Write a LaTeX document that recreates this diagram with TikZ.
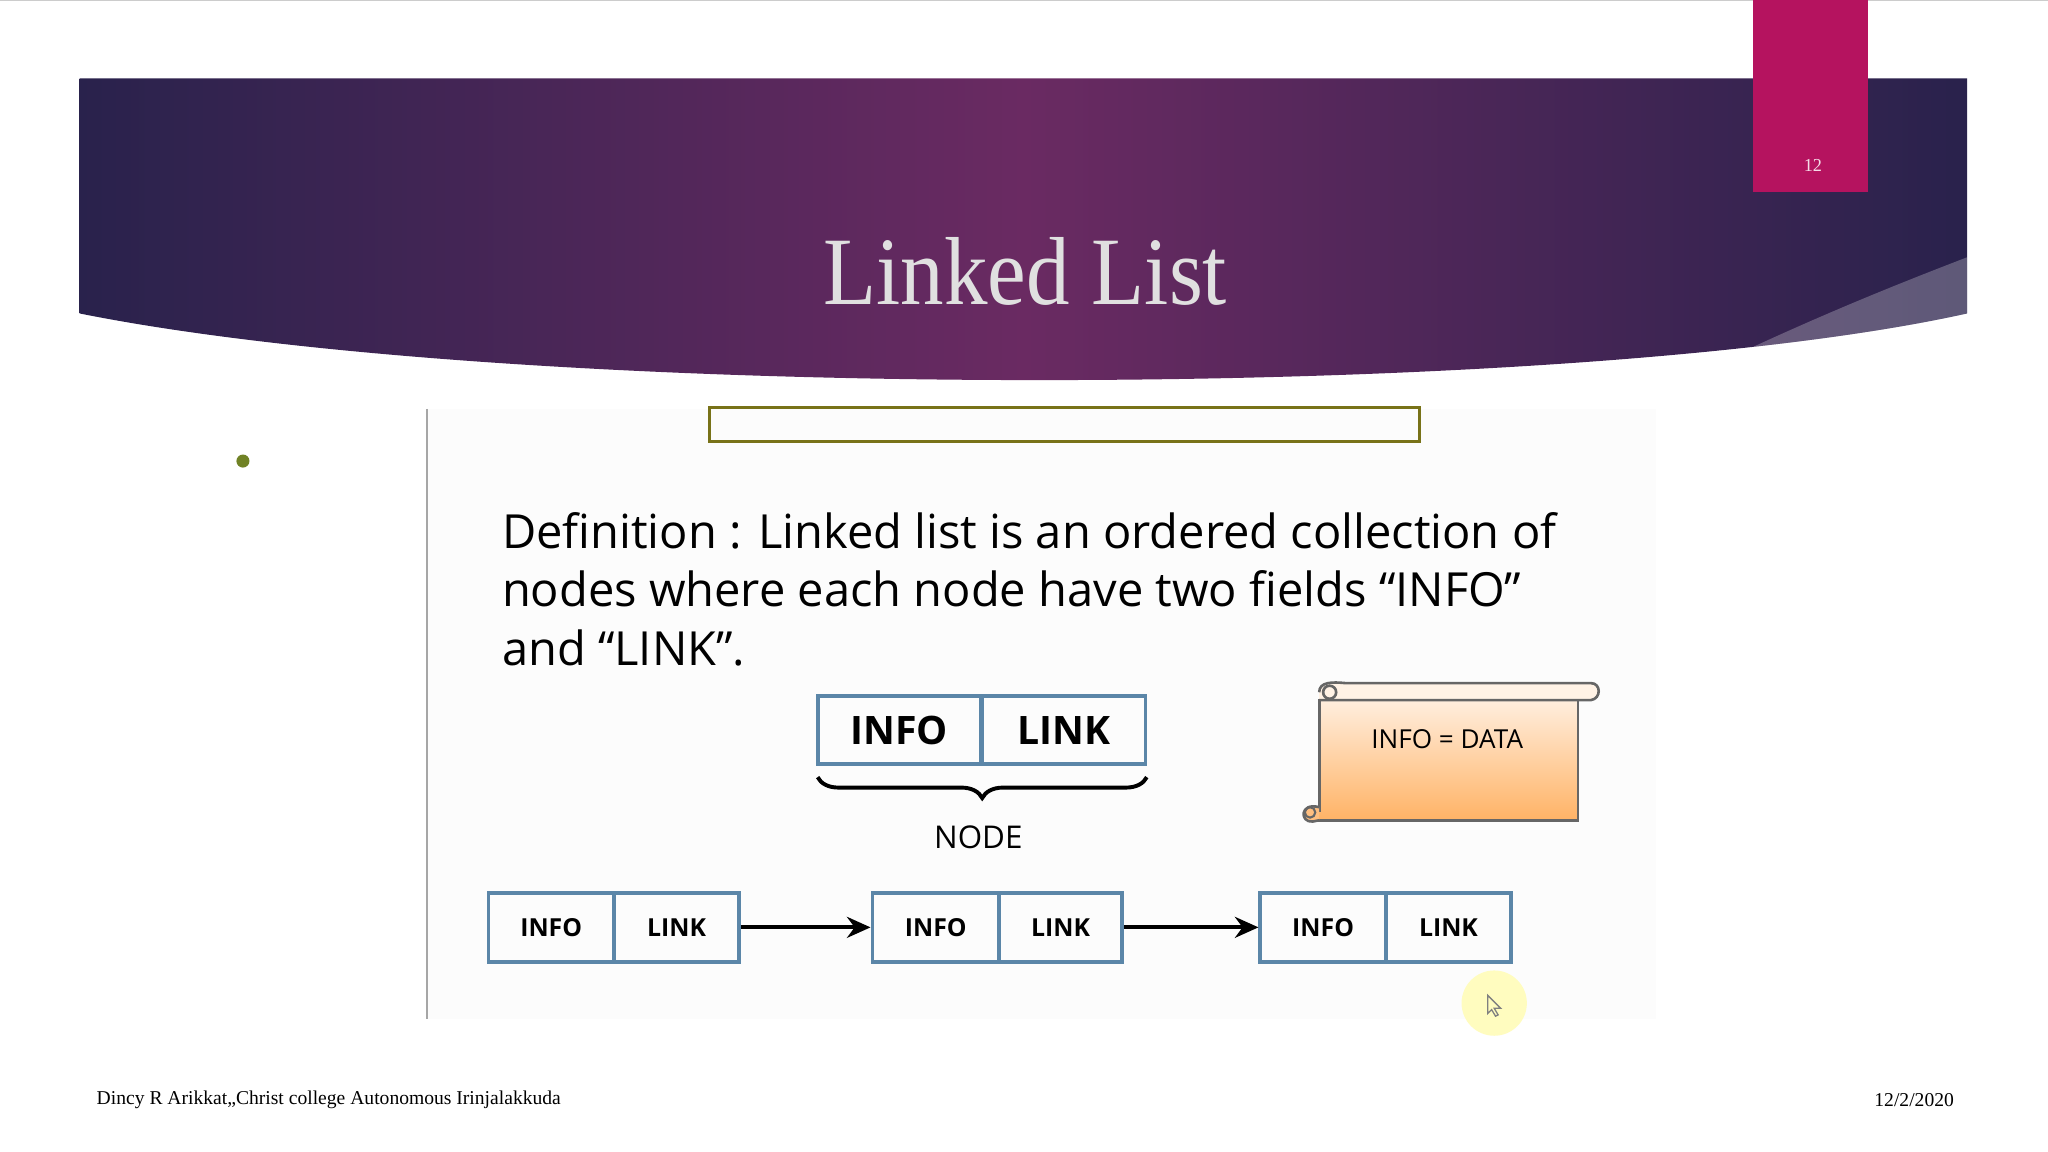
\documentclass[tikz,border=0pt]{standalone}
\usepackage{fontspec}
\setmainfont{Liberation Serif}
\newfontfamily\carl{Open Sans}
\usetikzlibrary{decorations.pathreplacing,arrows.meta}
\definecolor{bord}{HTML}{5B86A8}
\definecolor{tab}{HTML}{B5135F}
\definecolor{bEdge}{HTML}{29224C}
\definecolor{bMid}{HTML}{6A2A62}
\begin{document}
\begin{tikzpicture}[x=0.5pt,y=-0.5pt,
  cell/.style={draw=bord,line width=1.5pt,minimum height=26.5pt,inner sep=0pt,font=\carl\bfseries\fontsize{9.5}{11}\selectfont},
  bigcell/.style={draw=bord,line width=1.5pt,minimum width=62.5pt,minimum height=26pt,inner sep=0pt,font=\carl\bfseries\fontsize{15}{18}\selectfont},
  arr/.style={-{Stealth[length=9pt,width=8pt]},line width=1.6pt}]
\useasboundingbox (0,0) rectangle (1568,882);
\fill[white] (0,0) rectangle (1568,882);
\draw[gray!40] (0,0.5) -- (1568,0.5);
% banner
\begin{scope}
\clip (61,60) -- (1506,60) -- (1506,240) .. controls (1200,308) and (400,308) .. (61,240) -- cycle;
\shade[left color=bEdge, right color=bEdge, middle color=bMid] (61,60) rectangle (1506,310);
\fill[white,opacity=0.25] (1506,197) .. controls (1420,230) and (1350,260) .. (1250,310) -- (1506,310) -- cycle;
\end{scope}
\fill[tab] (1342,0) rectangle (1430,147);
\node[text=white!85!tab,font=\fontsize{7}{8}\selectfont] (pg) at (1388,127) {12};
\node[text=white!88!black,font=\fontsize{37}{42}\selectfont,transform shape,xscale=0.9] (title) at (785,208) {Linked List};
% bullet
\fill[olive!70!green!80!black] (186,353) circle (5);
% image panel
\fill[black!1] (327,313) rectangle (1268,780);
\draw[gray!70,line width=1pt] (327,313) -- (327,780);
\draw[olive!80!black,line width=1pt] (543,312) rectangle (1087,338);
\node[anchor=north west,align=left,font=\carl\fontsize{18}{22.3}\selectfont,inner sep=0pt] (def) at (384,392)
 {Definition : Linked list is an ordered collection of\\nodes where each node have two fields “INFO”\\and “LINK”.};
% big node
\node[bigcell] (bi) at (688.5,559) {INFO};
\node[bigcell] (bl) at (814.5,559) {LINK};
\draw[decorate,decoration={brace,mirror,amplitude=8pt},line width=1.5pt] (626,595) -- (878,595);
\node[font=\carl\fontsize{12}{14}\selectfont] (nd) at (749,641) {NODE};
% scroll
\shade[top color=orange!10!white,bottom color=orange!60!white] (1010,530) rectangle (1208,628);
\draw[black!60,line width=1pt] (1010,535) -- (1010,622) (1208,535) -- (1208,628) -- (1005,628);
\draw[black!60,line width=1pt,fill=orange!10!white] (1010,530) .. controls (1010,522) and (1020,522) .. (1030,523) -- (1218,523) .. controls (1226,523) and (1226,535) .. (1218,536) -- (1010,536);
\draw[black!60,line width=1pt] (1018,530) circle (5);
\draw[black!60,line width=1pt,fill=orange!50!white] (1010,618) .. controls (995,614) and (995,630) .. (1005,629) -- (1010,628);
\draw[black!60,line width=0.8pt] (1003,622) circle (4);
\node[font=\carl\fontsize{10}{12}\selectfont] (sc) at (1108,566) {INFO = DATA};
% list
\node[cell,minimum width=48pt] (i1) at (422,710) {INFO};
\node[cell,minimum width=48pt] (l1) at (518,710) {LINK};
\node[cell,minimum width=48.5pt] (i2) at (716.5,710) {INFO};
\node[cell,minimum width=47pt] (l2) at (812,710) {LINK};
\node[cell,minimum width=48pt] (i3) at (1013,710) {INFO};
\node[cell,minimum width=48pt] (l3) at (1109,710) {LINK};
\draw[arr] (l1.east) -- (i2.west);
\draw[arr] (l2.east) -- (i3.west);
% cursor
\fill[yellow!25!white] (1144,768) circle (25);
\draw[gray,line width=0.5pt] (1139,762) -- (1139,776) -- (1142,773) -- (1145,778) -- (1147,777) -- (1144,772) -- (1149,772) -- cycle;
% footer
\node[anchor=west,font=\fontsize{7.5}{9}\selectfont] (fl) at (67,842) {Dincy R Arikkat,,Christ college Autonomous Irinjalakkuda};
\node[anchor=east,font=\fontsize{7.5}{9}\selectfont] (fr) at (1503,842) {12/2/2020};
\end{tikzpicture}
\end{document}
